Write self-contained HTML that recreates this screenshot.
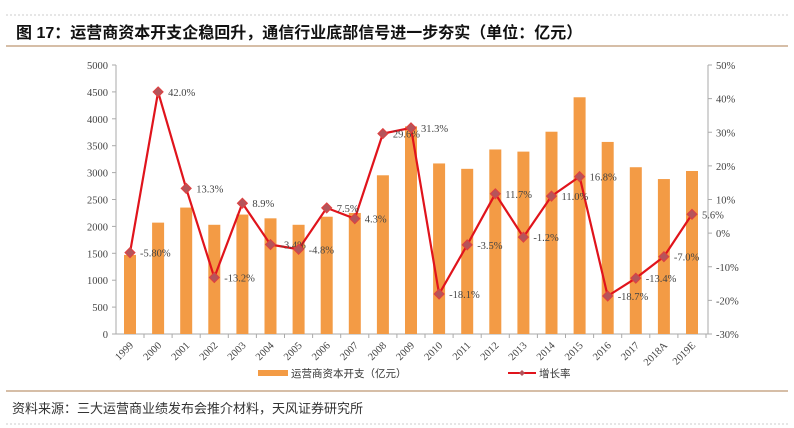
<!DOCTYPE html>
<html><head><meta charset="utf-8"><style>
body{margin:0;background:#fff;width:794px;height:428px;overflow:hidden;font-family:"Liberation Sans","Noto Sans CJK SC",sans-serif}
</style></head><body>
<svg id="s" width="794" height="428" xmlns="http://www.w3.org/2000/svg" style="position:absolute;left:0;top:0">
<rect x="6" y="15" width="782" height="31" fill="#fff"/>
<line x1="6" y1="15" x2="788" y2="15" stroke="#ccc" stroke-dasharray="2,2"/>
<text x="16" y="38" font-size="16" font-weight="bold" font-family="Liberation Sans,Noto Sans CJK SC,sans-serif" fill="#111">图 17：运营商资本开支企稳回升，通信行业底部信号进一步夯实（单位：亿元）</text>
<line x1="6" y1="46" x2="788" y2="46" stroke="#c8a98a" stroke-width="1.5"/>
<line x1="6" y1="391" x2="788" y2="391" stroke="#c8a98a" stroke-width="1.5"/>
<text x="12" y="413" font-size="13" fill="#333" font-family="Liberation Sans,Noto Sans CJK SC,sans-serif">资料来源：三大运营商业绩发布会推介材料，天风证券研究所</text>
<line x1="6" y1="424" x2="788" y2="424" stroke="#ccc" stroke-dasharray="2,2"/>
<g id="g"></g>
</svg>
<script>
var ns="http://www.w3.org/2000/svg",g=document.getElementById('g'),h='';
var yrs=["1999","2000","2001","2002","2003","2004","2005","2006","2007","2008","2009","2010","2011","2012","2013","2014","2015","2016","2017","2018A","2019E"];
var v=[1470,2070,2350,2030,2220,2150,2030,2180,2250,2950,3860,3170,3070,3430,3390,3760,4400,3570,3100,2880,3030];
var p=[-5.8,42,13.3,-13.2,8.9,-3.4,-4.8,7.5,4.3,29.6,31.3,-18.1,-3.5,11.7,-1.2,11.0,16.8,-18.7,-13.4,-7.0,5.6];
var lab=["-5.80%","42.0%","13.3%","-13.2%","8.9%","-3.4%","-4.8%","7.5%","4.3%","29.6%","31.3%","-18.1%","-3.5%","11.7%","-1.2%","11.0%","16.8%","-18.7%","-13.4%","-7.0%","5.6%"];
var Y0=334,Yt=65,H=Y0-Yt,LX=116,RX=708;
function yv(x){return Y0-x/5000*H}
function yp(x){return Y0-(x+30)/80*H}
var f='font-family="Liberation Serif,serif" font-size="10.5" fill="#444"';
h+='<line x1="'+LX+'" y1="'+Yt+'" x2="'+LX+'" y2="'+Y0+'" stroke="#aaa"/>';
h+='<line x1="'+RX+'" y1="'+Yt+'" x2="'+RX+'" y2="'+Y0+'" stroke="#aaa"/>';
h+='<line x1="'+LX+'" y1="'+Y0+'" x2="'+RX+'" y2="'+Y0+'" stroke="#aaa"/>';
for(var i=0;i<=10;i++){var y=yv(i*500);h+='<line x1="'+(LX-4)+'" y1="'+y+'" x2="'+LX+'" y2="'+y+'" stroke="#aaa"/><text x="'+(LX-8)+'" y="'+(y+4)+'" text-anchor="end" '+f+'>'+(i*500)+'</text>';}
for(var i=0;i<=8;i++){var q=-30+i*10,y=yp(q);h+='<line x1="'+RX+'" y1="'+y+'" x2="'+(RX+4)+'" y2="'+y+'" stroke="#aaa"/><text x="'+(RX+8)+'" y="'+(y+4)+'" '+f+'>'+q+'%</text>';}
var pts=[];
for(var i=0;i<21;i++){var cx=130+i*28.1;
h+='<rect x="'+(cx-6)+'" y="'+yv(v[i])+'" width="12" height="'+(Y0-yv(v[i]))+'" fill="#f39b45"/>';
h+='<line x1="'+(cx+14)+'" y1="'+Y0+'" x2="'+(cx+14)+'" y2="'+(Y0+4)+'" stroke="#aaa"/>';
h+='<text transform="translate('+(cx+4)+','+(Y0+12)+') rotate(-45)" text-anchor="end" '+f+'>'+yrs[i]+'</text>';
pts.push(cx+','+yp(p[i]));}
h+='<polyline points="'+pts.join(' ')+'" fill="none" stroke="#e0141c" stroke-width="2.2"/>';
for(var i=0;i<21;i++){var cx=130+i*28.1,y=yp(p[i]);
h+='<polygon points="'+cx+','+(y-5)+' '+(cx+5)+','+y+' '+cx+','+(y+5)+' '+(cx-5)+','+y+'" fill="#b5545a" stroke="#e04040" stroke-width="1"/>';
h+='<text x="'+(cx+10)+'" y="'+(y+4)+'" '+f+'>'+lab[i]+'</text>';}
h+='<rect x="258" y="370" width="30" height="6" fill="#f39b45"/><text x="291" y="377" font-size="10.5" fill="#333" font-family="Liberation Sans,Noto Sans CJK SC,sans-serif">运营商资本开支（亿元）</text>';
h+='<line x1="508" y1="373" x2="536" y2="373" stroke="#e0141c" stroke-width="2"/><polygon points="522,370 525,373 522,376 519,373" fill="#b5545a"/><text x="539" y="377" font-size="10.5" fill="#333" font-family="Liberation Sans,Noto Sans CJK SC,sans-serif">增长率</text>';
g.innerHTML=h;
</script>
</body></html>
